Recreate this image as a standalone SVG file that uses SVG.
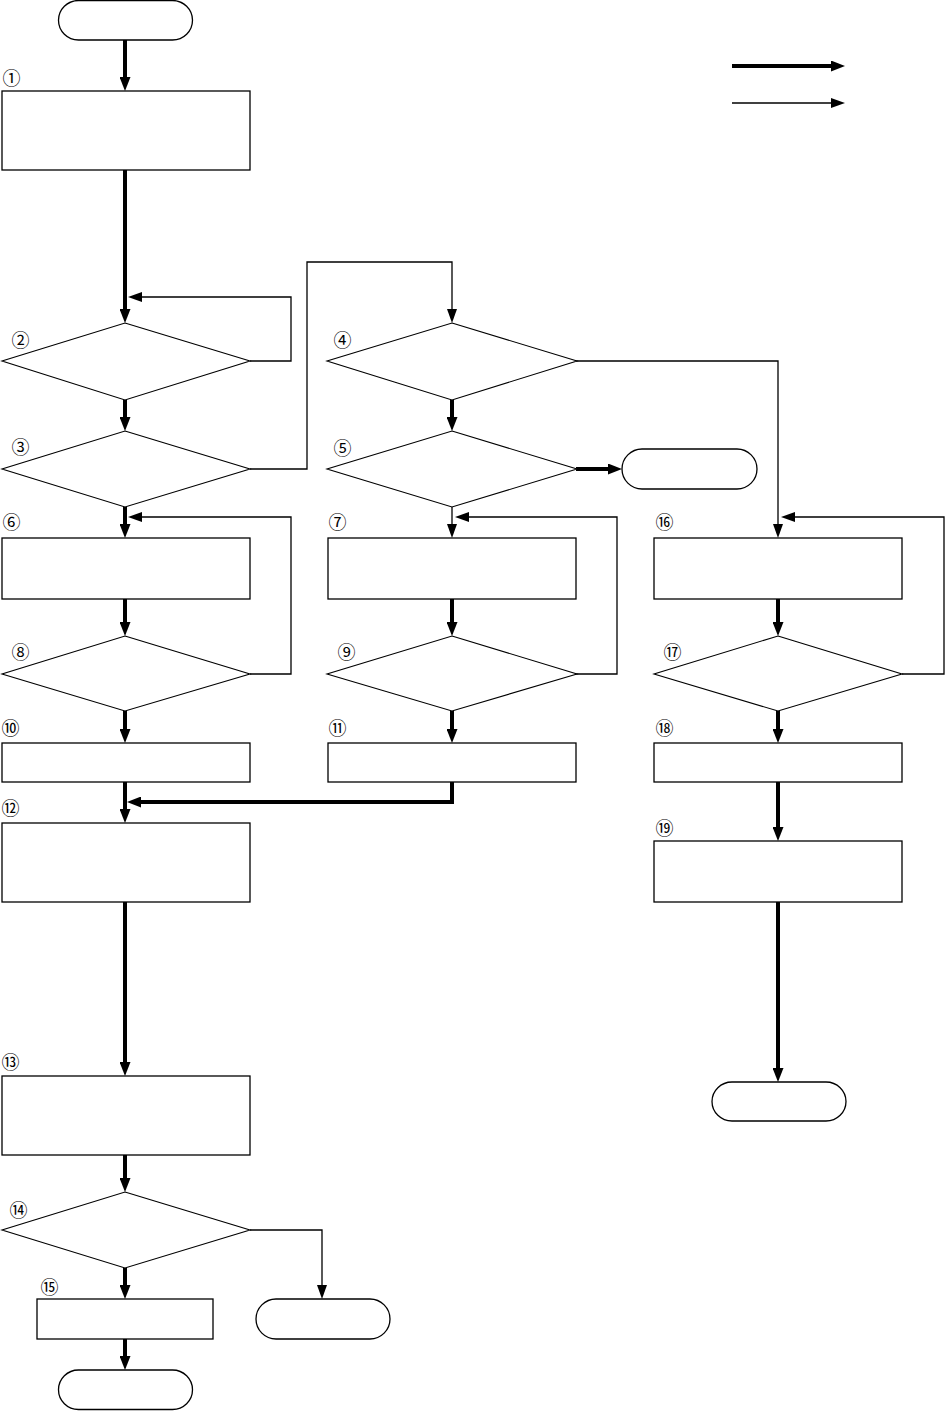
<svg xmlns="http://www.w3.org/2000/svg" width="945" height="1411" viewBox="0 0 945 1411">
<style>
.box{fill:#fff;stroke:#000;stroke-width:1.3}
.dia{fill:#fff;stroke:#000;stroke-width:1.1}
.thick{fill:none;stroke:#000;stroke-width:4}
.thin{fill:none;stroke:#000;stroke-width:1.3}
.num{font-family:"Noto Sans CJK JP","DejaVu Sans",sans-serif;font-size:18px;fill:#000}
</style>
<defs>
<marker id="ah" markerUnits="userSpaceOnUse" markerWidth="14" markerHeight="11" refX="4" refY="5.5" orient="auto">
<path d="M0,0 L14,5.5 L0,11 z" fill="#000"/>
</marker>
<marker id="at" markerUnits="userSpaceOnUse" markerWidth="14" markerHeight="10" refX="4" refY="5" orient="auto">
<path d="M0,0 L14,5 L0,10 z" fill="#000"/>
</marker>
</defs>
<rect width="945" height="1411" fill="#fff"/>
<g id="connectors">
<path class="thick" marker-end="url(#ah)" d="M125,40 V81"/>
<path class="thick" marker-end="url(#ah)" d="M125,170 V313"/>
<path class="thick" marker-end="url(#ah)" d="M125,400 V421"/>
<path class="thick" marker-end="url(#ah)" d="M125,507 V528"/>
<path class="thick" marker-end="url(#ah)" d="M125,599 V626"/>
<path class="thick" marker-end="url(#ah)" d="M125,711 V733"/>
<path class="thick" marker-end="url(#ah)" d="M125,782 V813"/>
<path class="thick" marker-end="url(#ah)" d="M452,782 V802 H137"/>
<path class="thick" marker-end="url(#ah)" d="M125,902 V1066"/>
<path class="thick" marker-end="url(#ah)" d="M125,1155 V1182"/>
<path class="thick" marker-end="url(#ah)" d="M125,1268 V1289"/>
<path class="thick" marker-end="url(#ah)" d="M125,1339 V1360"/>
<path class="thick" marker-end="url(#ah)" d="M452,400 V421"/>
<path class="thick" marker-end="url(#ah)" d="M576,469 H612"/>
<path class="thick" marker-end="url(#ah)" d="M452,599 V626"/>
<path class="thick" marker-end="url(#ah)" d="M452,711 V733"/>
<path class="thick" marker-end="url(#ah)" d="M778,599 V626"/>
<path class="thick" marker-end="url(#ah)" d="M778,711 V733"/>
<path class="thick" marker-end="url(#ah)" d="M778,782 V831"/>
<path class="thick" marker-end="url(#ah)" d="M778,902 V1072"/>
<path class="thick" marker-end="url(#ah)" d="M732,66 H835"/>
<path class="thin" marker-end="url(#at)" d="M250,361 H291 V297 H138"/>
<path class="thin" marker-end="url(#at)" d="M250,469 H307 V262 H452 V313"/>
<path class="thin" marker-end="url(#at)" d="M576,361 H778 V528"/>
<path class="thin" marker-end="url(#at)" d="M250,674 H291 V517 H138"/>
<path class="thin" marker-end="url(#at)" d="M452,507 V528"/>
<path class="thin" marker-end="url(#at)" d="M576,674 H617 V517 H465"/>
<path class="thin" marker-end="url(#at)" d="M902,674 H944 V517 H791"/>
<path class="thin" marker-end="url(#at)" d="M250,1230 H322 V1289"/>
<path class="thin" marker-end="url(#at)" d="M732,103 H835"/>
</g>
<g id="start"><rect class="box" x="58.5" y="0.5" width="134" height="39.5" rx="20"/></g>
<g id="n1"><rect class="box" x="2" y="91" width="248" height="79"/><text class="num" x="2.5" y="85">①</text></g>
<g id="n2"><polygon class="dia" points="125,323 250,361 125,400 2,361"/><text class="num" x="11.5" y="347">②</text></g>
<g id="n3"><polygon class="dia" points="125,431 250,469 125,507 2,469"/><text class="num" x="11.5" y="454">③</text></g>
<g id="n4"><polygon class="dia" points="452,323 577,361 452,400 327,361"/><text class="num" x="333.5" y="347">④</text></g>
<g id="n5"><polygon class="dia" points="452,431 577,469 452,507 327,469"/><text class="num" x="333.5" y="455">⑤</text></g>
<g id="end5"><rect class="box" x="622" y="449" width="135" height="40" rx="20"/></g>
<g id="n6"><rect class="box" x="2" y="538" width="248" height="61"/><text class="num" x="2.5" y="529">⑥</text></g>
<g id="n7"><rect class="box" x="328" y="538" width="248" height="61"/><text class="num" x="328.5" y="529">⑦</text></g>
<g id="n16"><rect class="box" x="654" y="538" width="248" height="61"/><text class="num" x="655.5" y="529">⑯</text></g>
<g id="n8"><polygon class="dia" points="125,636 250,674 125,711 2,674"/><text class="num" x="11.5" y="659">⑧</text></g>
<g id="n9"><polygon class="dia" points="452,636 577,674 452,711 327,674"/><text class="num" x="337.5" y="659">⑨</text></g>
<g id="n17"><polygon class="dia" points="778,636 902,674 778,711 654,674"/><text class="num" x="663.5" y="659">⑰</text></g>
<g id="n10"><rect class="box" x="2" y="743" width="248" height="39"/><text class="num" x="1.5" y="735">⑩</text></g>
<g id="n11"><rect class="box" x="328" y="743" width="248" height="39"/><text class="num" x="328.5" y="735">⑪</text></g>
<g id="n18"><rect class="box" x="654" y="743" width="248" height="39"/><text class="num" x="655.5" y="735">⑱</text></g>
<g id="n12"><rect class="box" x="2" y="823" width="248" height="79"/><text class="num" x="1.5" y="815">⑫</text></g>
<g id="n19"><rect class="box" x="654" y="841" width="248" height="61"/><text class="num" x="655.5" y="835">⑲</text></g>
<g id="end19"><rect class="box" x="712" y="1082" width="134" height="39" rx="20"/></g>
<g id="n13"><rect class="box" x="2" y="1076" width="248" height="79"/><text class="num" x="1.5" y="1069">⑬</text></g>
<g id="n14"><polygon class="dia" points="125,1192 250,1230 125,1268 2,1230"/><text class="num" x="9.5" y="1217">⑭</text></g>
<g id="n15"><rect class="box" x="37" y="1299" width="176" height="40"/><text class="num" x="40.5" y="1294">⑮</text></g>
<g id="end14"><rect class="box" x="256" y="1299" width="134" height="40" rx="20"/></g>
<g id="end15"><rect class="box" x="58.5" y="1370" width="134" height="39.5" rx="20"/></g>
</svg>
